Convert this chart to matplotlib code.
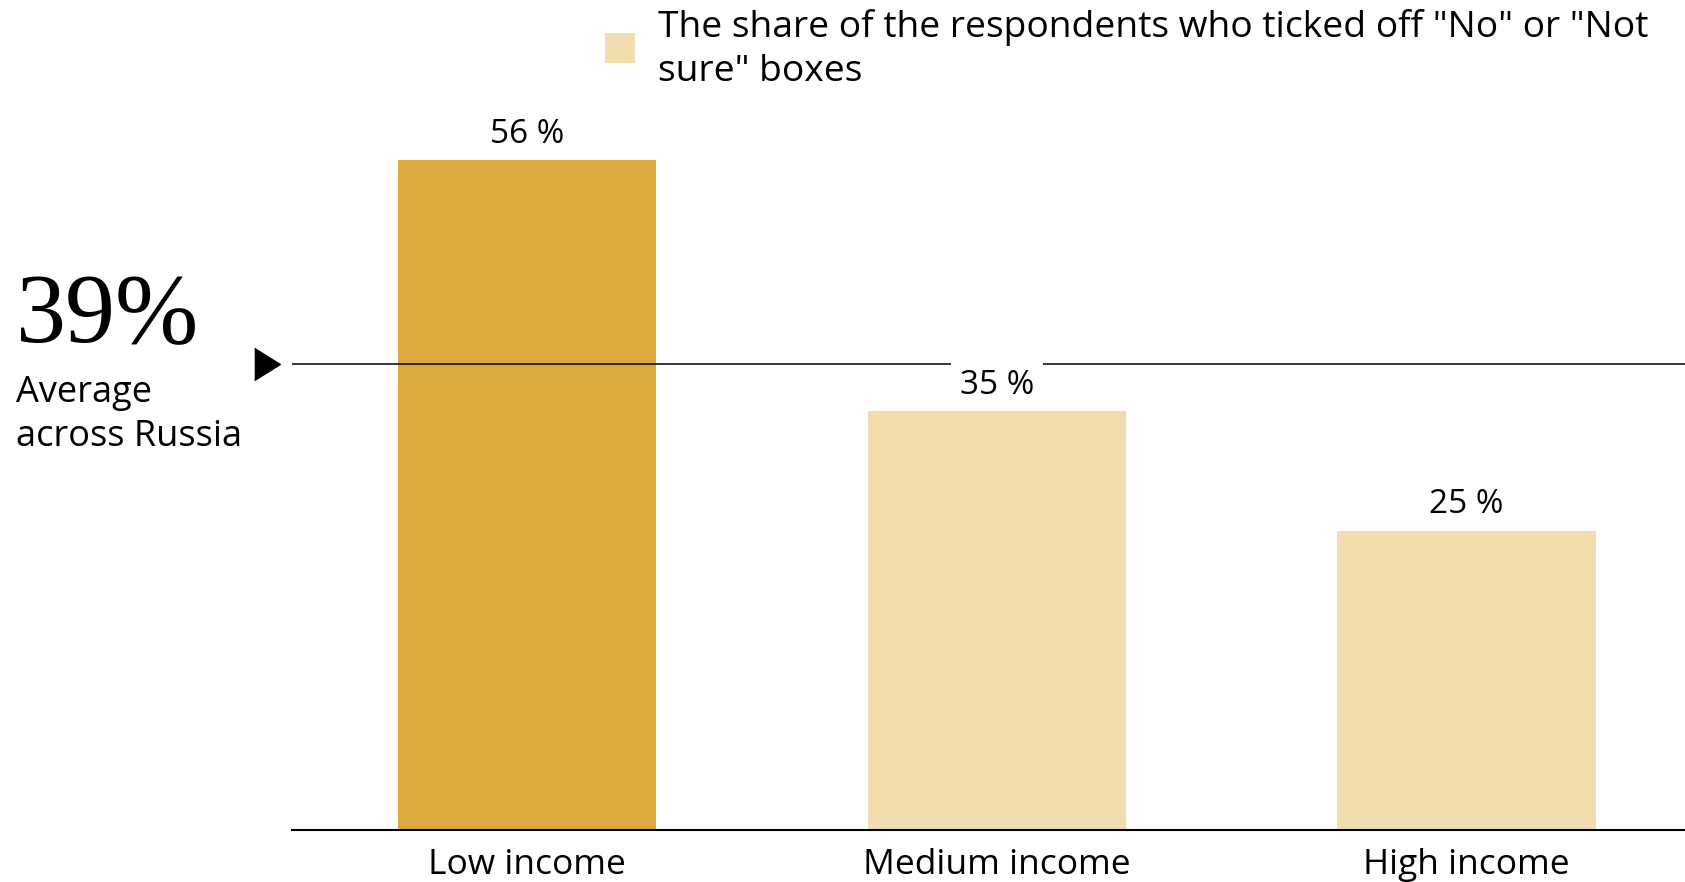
import matplotlib.pyplot as plt
from matplotlib.patches import Rectangle

# share of "No" / "Not sure" answers by income group
groups = ['Low income', 'Medium income', 'High income']
shares = [56, 35, 25]
average = 39

DARK = '#DCA93D'
LIGHT = '#F2DDB0'
SANS = 'Open Sans'

fig = plt.figure(figsize=(16.85, 8.82), dpi=100)
ax = fig.add_axes([292 / 1685, 52 / 882, 1 - 292 / 1685, 0.8136])

colors = [DARK if v == max(shares) else LIGHT for v in shares]
x = range(len(groups))
ax.bar(x, shares, width=0.55, color=colors, zorder=2)
ax.set_xlim(-0.5, 2.465)
ax.set_ylim(0, 60)

# national average line with arrow head on the left
ax.axhline(average, color='black', lw=1.1, zorder=2.5)
ax.plot([-0.018], [average], marker=[(-0.8, -1), (0.8, 0), (-0.8, 1)],
        ms=23, color='black', clip_on=False,
        transform=ax.get_yaxis_transform())

# value labels; the white box breaks the average line where they cross it
for i, v in enumerate(shares):
    ax.annotate(f'{v} %', (i, v), xytext=(0, 7), textcoords='offset points',
                ha='center', va='bottom', fontsize=24, family=SANS,
                bbox=dict(facecolor='white', edgecolor='none', pad=6.5),
                zorder=3)

ax.set_xticks(list(x))
ax.set_xticklabels(groups, fontsize=25.5, family=SANS)
ax.tick_params(axis='x', length=0, pad=13)
ax.set_yticks([])
for s in ['top', 'right', 'left']:
    ax.spines[s].set_visible(False)
ax.spines['bottom'].set_linewidth(1.5)

# big average figure on the left
fig.text(16 / 1685, 1 - 342 / 882, f'{average}%', fontsize=72,
         family='Liberation Serif', ha='left', va='baseline')
fig.text(16 / 1685, 1 - 375 / 882, 'Average\nacross Russia', fontsize=26,
         family=SANS, ha='left', va='top', linespacing=1.3)

# legend
fig.patches.append(Rectangle((605 / 1685, 1 - 63 / 882), 30 / 1685, 30 / 882,
                             transform=fig.transFigure, facecolor=LIGHT,
                             edgecolor='none'))
fig.text(658 / 1685, 1 - 9 / 882,
         'The share of the respondents who ticked off "No" or "Not\nsure" boxes',
         fontsize=26.8, family=SANS, ha='left', va='top', linespacing=1.3)

fig.savefig('out.png', dpi=100)
